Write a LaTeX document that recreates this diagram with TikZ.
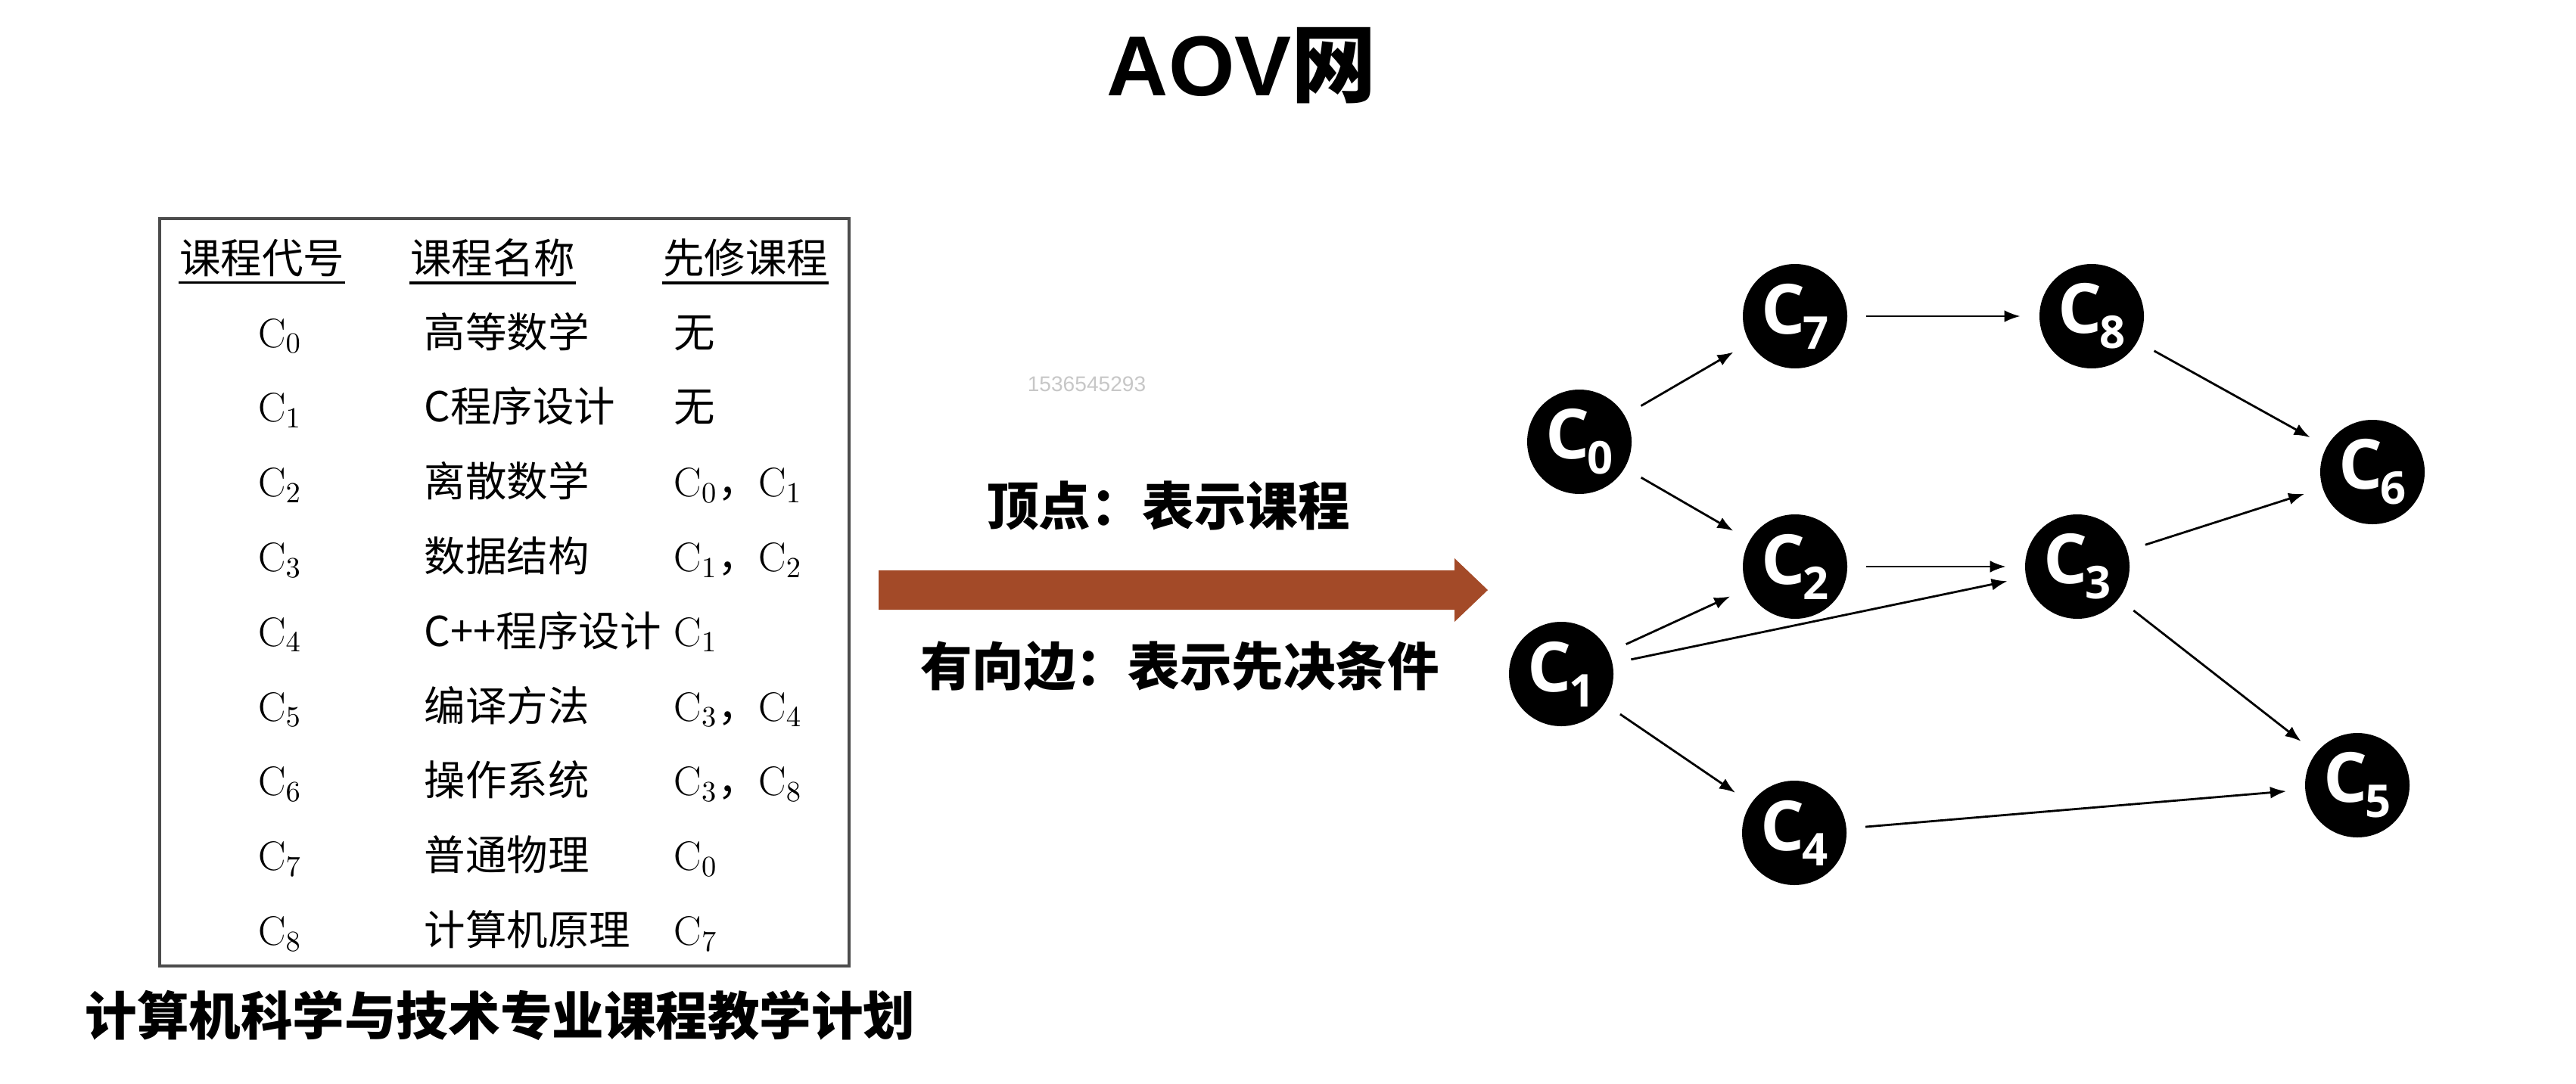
\documentclass[tikz,border=0pt]{standalone}
\usepackage{fontspec}
\newfontfamily\cjk{Noto Sans CJK SC}
\newfontfamily\opensans{Open Sans}
\newfontfamily\arial{Liberation Sans}
\usetikzlibrary{arrows.meta}

\definecolor{rust}{RGB}{163,74,40}

% course code in the table, vertex label in the graph
\newcommand{\ck}[1]{$\mathrm{C}_{#1}$}
\newcommand{\cv}[1]{\fontsize{26}{26}\selectfont\opensans\bfseries C\kern-1pt\raisebox{-0.2cm}{\fontsize{17}{17}\selectfont #1}}

\tikzset{
  vtx/.style={circle, fill=black, minimum size=1.38cm, inner sep=0pt, text=white},
  edge/.style={-{Latex[length=6pt,width=4.5pt]}, line width=0.8pt, shorten <=7pt, shorten >=7pt},
  cell/.style={inner sep=0pt, font=\cjk\fontsize{15.5}{15.5}\selectfont},
  label/.style={inner sep=0pt, font=\cjk\bfseries\fontsize{19.5}{19.5}\selectfont}
}

\begin{document}
\begin{tikzpicture}[x=1cm, y=-1cm]

\fill[white] (0,0) rectangle (34.04,14.32);
\useasboundingbox (0,0) rectangle (34.04,14.32);

\node[inner sep=0pt, font=\fontsize{32}{32}\selectfont] (title) at (16.41,0.87)
  {{\arial\bfseries AOV}{\cjk\bfseries 网}};

\node[text=black!22, inner sep=0pt, font=\arial\fontsize{8}{8}\selectfont] (stamp) at (14.36,5.08) {1536545293};

% table
\draw[black!70, line width=1.2pt] (2.11,2.89) rectangle (11.22,12.77);

\node[cell] (h1) at (3.46,3.41) {课程代号};
\node[cell] (h2) at (6.51,3.41) {课程名称};
\node[cell] (h3) at (9.85,3.41) {先修课程};
\foreach \h in {h1,h2,h3}
  \draw[line width=1pt] ([yshift=-2pt]\h.south west) -- ([yshift=-2pt]\h.south east);

\foreach \n/\crs/\req in {0/高等数学/无, 1/C程序设计/无, 2/离散数学/\ck{0}，\ck{1},
    3/数据结构/\ck{1}，\ck{2}, 4/C++程序设计/\ck{1}, 5/编译方法/\ck{3}，\ck{4},
    6/操作系统/\ck{3}，\ck{8}, 7/普通物理/\ck{0}, 8/计算机原理/\ck{7}}
{
  \node[cell, anchor=base] (code\n) at (3.70,4.59+0.988*\n) {\ck{\n}};
  \node[cell, anchor=base west] (name\n) at (5.60,4.59+0.988*\n) {\crs};
  \node[cell, anchor=base west] (req\n) at (8.90,4.59+0.988*\n) {\req};
}

\node[label] (plan) at (6.61,13.42) {计算机科学与技术专业课程教学计划};

% big arrow and its two notes
\fill[rust] (11.61,7.54) -- (19.22,7.54) -- (19.22,7.38) -- (19.66,7.80)
  -- (19.22,8.22) -- (19.22,8.06) -- (11.61,8.06) -- cycle;
\node[label] (vnote) at (15.44,6.69) {顶点：表示课程};
\node[label] (enote) at (15.59,8.81) {有向边：表示先决条件};

% AOV graph
\node[vtx] (c0) at (20.87,5.84) {\cv{0}};
\node[vtx] (c1) at (20.63,8.91) {\cv{1}};
\node[vtx] (c7) at (23.72,4.18) {\cv{7}};
\node[vtx] (c2) at (23.72,7.49) {\cv{2}};
\node[vtx] (c4) at (23.71,11.01) {\cv{4}};
\node[vtx] (c8) at (27.64,4.18) {\cv{8}};
\node[vtx] (c3) at (27.45,7.49) {\cv{3}};
\node[vtx] (c6) at (31.35,6.24) {\cv{6}};
\node[vtx] (c5) at (31.15,10.38) {\cv{5}};

\draw[edge] (c0) -- (c7);
\draw[edge] (c0) -- (c2);
\draw[edge] (c7) -- (c8);
\draw[edge] (c8) -- (c6);
\draw[edge] (c2) -- (c3);
\draw[edge] (c1) -- (c2);
\draw[edge] (c1) -- (c3);
\draw[edge] (c1) -- (c4);
\draw[edge] (c3) -- (c6);
\draw[edge] (c3) -- (c5);
\draw[edge] (c4) -- (c5);

\end{tikzpicture}
\end{document}
